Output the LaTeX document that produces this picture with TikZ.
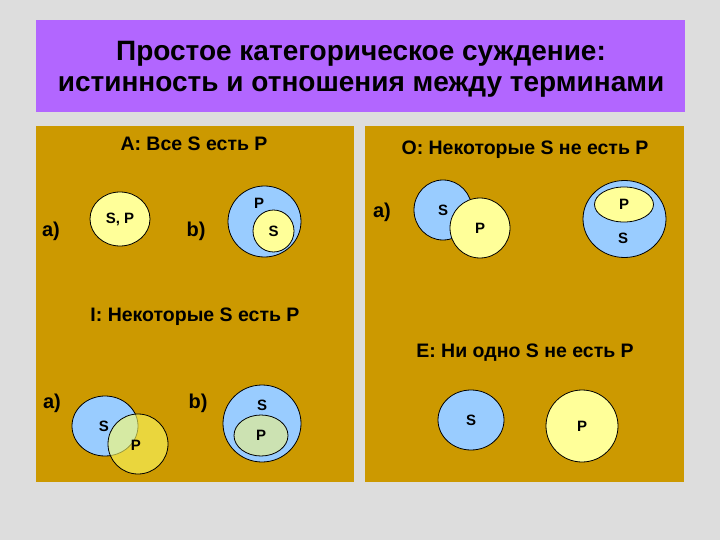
\documentclass[tikz,border=0pt]{standalone}
\usepackage{fontspec}
\setmainfont{Liberation Sans}
\usetikzlibrary{shapes.geometric}

\definecolor{bggray}{RGB}{221,221,221}
\definecolor{titleviolet}{RGB}{178,102,255}
\definecolor{panelgold}{RGB}{204,153,0}
\definecolor{sblue}{RGB}{153,204,255}
\definecolor{pyellow}{RGB}{255,255,153}
\definecolor{pdeep}{RGB}{255,255,102}
\definecolor{pgreen}{RGB}{204,226,178}

\begin{document}
\begin{tikzpicture}[x=1pt, y=-1pt,
  term/.style={ellipse, draw=black, line width=0.8pt, inner sep=0pt},
  sterm/.style={term, fill=sblue},
  pterm/.style={term, fill=pyellow},
  lbl/.style={font=\bfseries\fontsize{15}{17}\selectfont},
  head/.style={font=\bfseries\fontsize{19.5}{22}\selectfont},
  case/.style={font=\bfseries\fontsize{20}{23}\selectfont}]
  \useasboundingbox (0,0) rectangle (720,540);
  \fill[bggray] (0,0) rectangle (720,540);
  % title and the four panels
  \fill[titleviolet] (36,20) rectangle (685,112);
  \node[align=center, font=\bfseries\fontsize{28}{31}\selectfont] (title) at (361,69)
    {Простое категорическое суждение:\\истинность и отношения между терминами};
  \fill[panelgold] (36,126) rectangle (354,482);
  \fill[panelgold] (365,126) rectangle (684,482);

  % A
  \node[head] (headA) at (194,144) {A: Все S есть P};
  \node[case] (aA) at (51,231) {a)};
  \node[pterm, lbl, minimum width=60pt, minimum height=54pt] (SPa) at (120,219) {S, P};
  \node[case] (bA) at (196,231) {b)};
  \node[sterm, minimum width=73pt, minimum height=71pt] (PbA) at (264.5,221.5) {};
  \node[lbl] (PbAlbl) at (259,203) {P};
  \node[pterm, lbl, minimum width=41pt, minimum height=42pt] (SbA) at (273.5,231) {S};

  % O
  \node[head] (headO) at (525,150) {O: Некоторые S не есть P};
  \node[case] (aO) at (382,212) {a)};
  \node[sterm, lbl, minimum width=58pt, minimum height=60pt] (SaO) at (443,210) {S};
  \node[pterm, lbl, minimum width=60pt, minimum height=60pt] (PaO) at (480,228) {P};
  \node[sterm, minimum width=83pt, minimum height=77pt] (SbO) at (624.5,219) {};
  \node[lbl] (SbOlbl) at (623,238) {S};
  \node[pterm, lbl, minimum width=59pt, minimum height=35pt] (PbO) at (624,204.5) {P};

  % I
  \node[head] (headI) at (195,317) {I: Некоторые S есть P};
  \node[case] (aI) at (52,403) {a)};
  \node[sterm, minimum width=66pt, minimum height=60pt] (SaI) at (105,426) {};
  \node[term, fill=pdeep, fill opacity=0.6, minimum width=60pt, minimum height=60pt] (PaI) at (138,444) {};
  \node[lbl] (SaIlbl) at (104,426) {S};
  \node[lbl] (PaIlbl) at (136,445) {P};
  \node[case] (bI) at (198,403) {b)};
  \node[sterm, minimum width=78pt, minimum height=77pt] (SbI) at (262,423.5) {};
  \node[lbl] (SbIlbl) at (262,405) {S};
  \node[term, fill=pgreen, lbl, minimum width=54pt, minimum height=41pt] (PbI) at (261,435.5) {P};

  % E
  \node[head] (headE) at (525,353) {E: Ни одно S не есть P};
  \node[sterm, lbl, minimum width=66pt, minimum height=60pt] (SE) at (471,420) {S};
  \node[pterm, lbl, minimum width=72pt, minimum height=72pt] (PE) at (582,426) {P};
\end{tikzpicture}
\end{document}
